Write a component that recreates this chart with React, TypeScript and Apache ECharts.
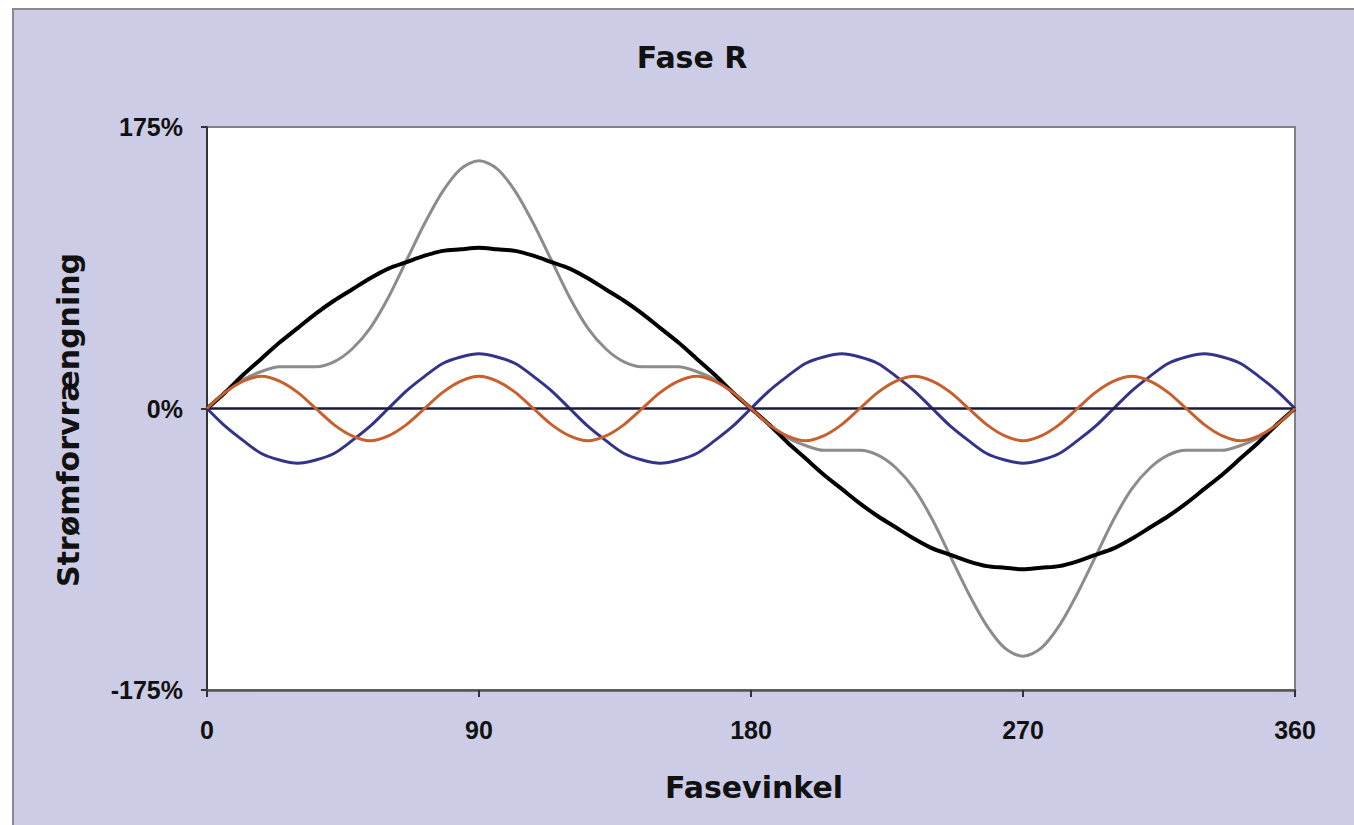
import React, { useEffect, useRef } from "react";
import * as echarts from "echarts";

// Phase angle (degrees)
const angles = [
  0, 6, 12, 18, 24, 30, 36, 42, 48, 54, 60, 66, 72, 78, 84, 90, 96, 102, 108, 114,
  120, 126, 132, 138, 144, 150, 156, 162, 168, 174, 180, 186, 192, 198, 204, 210,
  216, 222, 228, 234, 240, 246, 252, 258, 264, 270, 276, 282, 288, 294, 300, 306,
  312, 318, 324, 330, 336, 342, 348, 354, 360,
];

// Fundamental (black)
const fundamental = [
  0, 10, 21, 31, 41, 50, 59, 67, 74, 81, 87, 91, 95, 98, 99, 100, 99, 98, 95, 91,
  87, 81, 74, 67, 59, 50, 41, 31, 21, 10, 0, -10, -21, -31, -41, -50, -59, -67,
  -74, -81, -87, -91, -95, -98, -99, -100, -99, -98, -95, -91, -87, -81, -74, -67,
  -59, -50, -41, -31, -21, -10, 0,
];

// 3rd harmonic (blue)
const third = [
  0, -11, -20, -28, -32, -34, -32, -28, -20, -11, 0, 11, 20, 28, 32, 34, 32, 28, 20, 11,
  0, -11, -20, -28, -32, -34, -32, -28, -20, -11, 0, 11, 20, 28, 32, 34, 32, 28, 20, 11,
  0, -11, -20, -28, -32, -34, -32, -28, -20, -11, 0, 11, 20, 28, 32, 34, 32, 28, 20, 11,
  0,
];

// 5th harmonic (orange)
const fifth = [
  0, 10, 17, 20, 17, 10, 0, -10, -17, -20, -17, -10,
  0, 10, 17, 20, 17, 10, 0, -10, -17, -20, -17, -10,
  0, 10, 17, 20, 17, 10, 0, -10, -17, -20, -17, -10,
  0, 10, 17, 20, 17, 10, 0, -10, -17, -20, -17, -10,
  0, 10, 17, 20, 17, 10, 0, -10, -17, -20, -17, -10,
  0,
];

// Resulting distorted current (grey)
const total = [
  0, 10, 18, 23, 26, 26, 26, 29, 37, 50, 69, 92, 115, 135, 149, 154, 149, 135, 115, 92,
  69, 50, 37, 29, 26, 26, 26, 23, 18, 10, 0, -10, -18, -23, -26, -26, -26, -29, -37,
  -50, -69, -92, -115, -135, -149, -154, -149, -135, -115, -92, -69, -50, -37, -29,
  -26, -26, -26, -23, -18, -10, 0,
];

const xTicks = [0, 90, 180, 270, 360];
const yTicks = [-175, 0, 175];

const TITLE = "Fase R";
const X_NAME = "Fasevinkel";
const Y_NAME = "Strømforvrængning";

const pairs = (ys: number[]) => angles.map((a, i) => [a, ys[i]]);

export default function App() {
  const ref = useRef<HTMLDivElement>(null);

  useEffect(() => {
    if (!ref.current) return;
    const chart = echarts.init(ref.current, null, { renderer: "svg" });
    const tickFont = {
      fontFamily: "Liberation Sans",
      fontWeight: "bold" as const,
      fontSize: 25,
      color: "#111",
    };
    const nameFont = {
      fontFamily: "DejaVu Sans",
      fontWeight: "bold" as const,
      fontSize: 30,
      fill: "#111",
    };
    chart.setOption({
      animation: false,
      backgroundColor: "#ffffff",
      graphic: [
        {
          type: "rect",
          z: -10,
          silent: true,
          shape: { x: 13, y: 9, width: 1400, height: 1000 },
          style: { fill: "#CCCCE6", stroke: "#8a8a8a", lineWidth: 2 },
        },
        {
          type: "text",
          x: 692,
          y: 57,
          style: { ...nameFont, text: TITLE, textAlign: "center", textVerticalAlign: "middle" },
        },
        {
          type: "text",
          x: 754,
          y: 787,
          style: { ...nameFont, text: X_NAME, textAlign: "center", textVerticalAlign: "middle" },
        },
        {
          type: "text",
          x: 68,
          y: 420,
          rotation: Math.PI / 2,
          style: { ...nameFont, text: Y_NAME, textAlign: "center", textVerticalAlign: "middle" },
        },
      ],
      grid: {
        left: 207,
        top: 127,
        right: 59,
        bottom: 135,
        show: true,
        backgroundColor: "#ffffff",
        borderColor: "#808080",
        borderWidth: 2,
      },
      xAxis: {
        type: "value",
        min: 0,
        max: 360,
        interval: 90,
        axisLine: { show: true, onZero: false, lineStyle: { color: "#555", width: 2.5 } },
        axisTick: { show: true, length: 7, lineStyle: { color: "#333", width: 2 } },
        axisLabel: {
          ...tickFont,
          margin: 27,
          formatter: (v: number) => (xTicks.includes(v) ? String(v) : ""),
        },
        splitLine: { show: false },
      },
      yAxis: {
        type: "value",
        min: -175,
        max: 175,
        interval: 175,
        axisLine: { show: true, onZero: false, lineStyle: { color: "#333", width: 2 } },
        axisTick: { show: true, length: 6, lineStyle: { color: "#333", width: 2 } },
        axisLabel: {
          ...tickFont,
          margin: 24,
          formatter: (v: number) => (yTicks.includes(v) ? `${v}%` : ""),
        },
        splitLine: { show: false },
      },
      series: [
        {
          name: "Total",
          type: "line",
          data: pairs(total),
          showSymbol: false,
          smooth: 0.3,
          lineStyle: { color: "#8c8c8c", width: 3 },
          z: 2,
          markLine: {
            silent: true,
            symbol: "none",
            label: { show: false },
            lineStyle: { color: "#1a1a40", width: 2.5, type: "solid" },
            data: [{ yAxis: 0 }],
          },
        },
        {
          name: "Grundtone",
          type: "line",
          data: pairs(fundamental),
          showSymbol: false,
          smooth: 0.3,
          lineStyle: { color: "#000000", width: 4 },
          z: 3,
        },
        {
          name: "3. harmonisk",
          type: "line",
          data: pairs(third),
          showSymbol: false,
          smooth: 0.3,
          lineStyle: { color: "#33338a", width: 3 },
          z: 4,
        },
        {
          name: "5. harmonisk",
          type: "line",
          data: pairs(fifth),
          showSymbol: false,
          smooth: 0.3,
          lineStyle: { color: "#c8602e", width: 3 },
          z: 5,
        },
      ],
    });
    return () => chart.dispose();
  }, []);

  return (
    <div
      ref={ref}
      style={{ position: "fixed", left: 0, top: 0, width: 1354, height: 825, background: "#fff" }}
    />
  );
}
